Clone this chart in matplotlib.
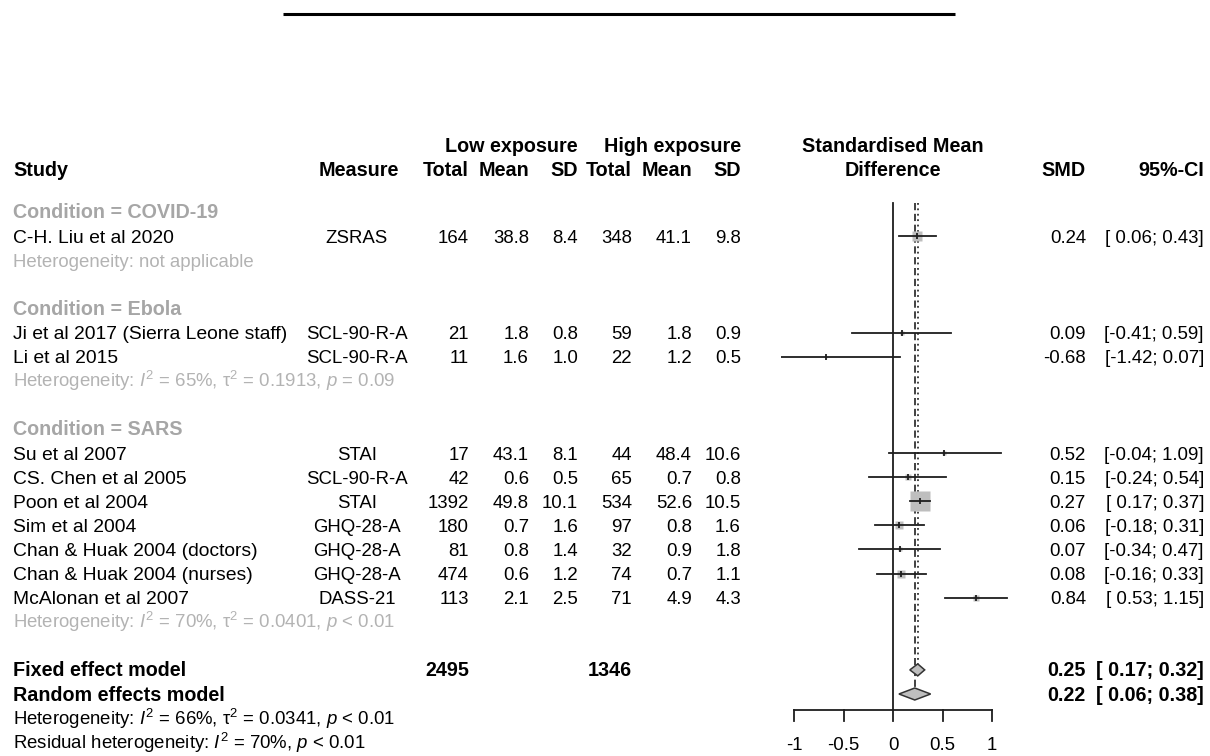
import numpy as np
import matplotlib
matplotlib.use("Agg")
import matplotlib.pyplot as plt
from matplotlib.patches import Polygon

plt.rcParams['font.family'] = ['Liberation Sans', 'DejaVu Sans']
plt.rcParams['mathtext.fontset'] = 'custom'
plt.rcParams['mathtext.rm'] = 'Liberation Sans'
plt.rcParams['mathtext.it'] = 'Liberation Sans:italic'
plt.rcParams['mathtext.bf'] = 'Liberation Sans:bold'

# ---- data ----
conditions = ["COVID-19", "Ebola", "SARS"]
study = ["C-H. Liu et al 2020",
         "Ji et al 2017 (Sierra Leone staff)", "Li et al 2015",
         "Su et al 2007", "CS. Chen et al 2005", "Poon et al 2004", "Sim et al 2004",
         "Chan & Huak 2004 (doctors)", "Chan & Huak 2004 (nurses)", "McAlonan et al 2007"]
condition = ["COVID-19", "Ebola", "Ebola",
             "SARS", "SARS", "SARS", "SARS", "SARS", "SARS", "SARS"]
measure = ["ZSRAS", "SCL-90-R-A", "SCL-90-R-A", "STAI", "SCL-90-R-A", "STAI",
           "GHQ-28-A", "GHQ-28-A", "GHQ-28-A", "DASS-21"]
n_low = [164, 21, 11, 17, 42, 1392, 180, 81, 474, 113]
mean_low = [38.8, 1.8, 1.6, 43.1, 0.6, 49.8, 0.7, 0.8, 0.6, 2.1]
sd_low = [8.4, 0.8, 1.0, 8.1, 0.5, 10.1, 1.6, 1.4, 1.2, 2.5]
n_high = [348, 59, 22, 44, 65, 534, 97, 32, 74, 71]
mean_high = [41.1, 1.8, 1.2, 48.4, 0.7, 52.6, 0.8, 0.9, 0.7, 4.9]
sd_high = [9.8, 0.9, 0.5, 10.6, 0.8, 10.5, 1.6, 1.8, 1.1, 4.3]
smd = [0.24, 0.09, -0.68, 0.52, 0.15, 0.27, 0.06, 0.07, 0.08, 0.84]
ci_lo = [0.06, -0.41, -1.42, -0.04, -0.24, 0.17, -0.18, -0.34, -0.16, 0.53]
ci_hi = [0.43, 0.59, 0.07, 1.09, 0.54, 0.37, 0.31, 0.47, 0.33, 1.15]
subgroup_het = [r"Heterogeneity: not applicable",
                r"Heterogeneity: $\mathit{I}^2$ = 65%, τ$^2$ = 0.1913, $\mathit{p}$ = 0.09",
                r"Heterogeneity: $\mathit{I}^2$ = 70%, τ$^2$ = 0.0401, $\mathit{p}$ < 0.01"]
model_names = ["Fixed effect model", "Random effects model"]
model_est = [0.25, 0.22]
model_lo = [0.17, 0.06]
model_hi = [0.32, 0.38]
total_low = 2495
total_high = 1346
overall_het = [r"Heterogeneity: $\mathit{I}^2$ = 66%, τ$^2$ = 0.0341, $\mathit{p}$ < 0.01",
               r"Residual heterogeneity: $\mathit{I}^2$ = 70%, $\mathit{p}$ < 0.01"]
xticks = [-1, -0.5, 0, 0.5, 1]
xticklabels = ["-1", "-0.5", "0", "0.5", "1"]

# ---- layout (pixels) ----
W, H = 1210, 756
FS = 13.4           # numbers, measures, heterogeneity
FS_LAB = 13.9       # study labels
FS_B = 14.2         # bold headings
ROW = 24.1
BASE = 6.5          # baseline offset from row centre
GRAY_SUB = '#a6a6a6'
GRAY_HET = '#b3b3b3'
LINE = '#1e1e1e'

x_study = 13
x_measure = 357
x_cols = [469, 529, 578, 632, 692, 741]
x_smd = 1086
x_ci = 1204
y_head1, y_head2 = 145, 169
y_first = 212
y_axis = 710
y_top_line = 203

fig = plt.figure(figsize=(W / 100, H / 100), dpi=100)
ax = fig.add_axes([0, 0, 1, 1])
ax.set_xlim(0, W)
ax.set_ylim(H, 0)
ax.axis('off')

# forest panel axes: SMD units horizontally, pixel rows vertically
f_lo, f_hi = -1.13, 1.3
px0, px_per = 893, 99
fx0 = px0 + f_lo * px_per
fx1 = px0 + f_hi * px_per
axf = fig.add_axes([fx0 / W, 0, (fx1 - fx0) / W, 1])
axf.set_xlim(f_lo, f_hi)
axf.set_ylim(H, 0)
axf.axis('off')

# decorative rule at the top
ax.plot([283, 955], [14, 14], color='black', lw=2.2, solid_capstyle='butt')


def txt(x, y, s, ha='left', bold=False, color='black', a=ax, size=None):
    if size is None:
        size = FS_B if bold else FS
    a.text(x, y + BASE, s, ha=ha, va='baseline', fontsize=size,
           fontweight='bold' if bold else 'normal', color=color)


# headers
txt(x_cols[2], y_head1, "Low exposure", ha='right', bold=True)
txt(x_cols[5], y_head1, "High exposure", ha='right', bold=True)
txt(0, y_head1, "Standardised Mean", ha='center', bold=True, a=axf)
txt(0, y_head2, "Difference", ha='center', bold=True, a=axf)
txt(x_study, y_head2, "Study", bold=True)
txt(x_measure + 42, y_head2, "Measure", ha='right', bold=True)
for x, lab in zip(x_cols, ["Total", "Mean", "SD", "Total", "Mean", "SD"]):
    txt(x, y_head2, lab, ha='right', bold=True)
txt(x_smd, y_head2, "SMD", ha='right', bold=True)
txt(x_ci, y_head2, "95%-CI", ha='right', bold=True)

# fixed-effect weights for box sizes
n1 = np.array(n_low, float)
n2 = np.array(n_high, float)
d = np.array(smd)
w = 1.0 / ((n1 + n2) / (n1 * n2) + d ** 2 / (2 * (n1 + n2)))
side_px = 1.04 * np.sqrt(w)

y = y_first
for g, cond in enumerate(conditions):
    txt(x_study, y, "Condition = " + cond, bold=True, color=GRAY_SUB)
    y += ROW
    for i in [k for k, c in enumerate(condition) if c == cond]:
        txt(x_study, y, study[i], size=FS_LAB)
        txt(x_measure, y, measure[i], ha='center')
        vals = [str(n_low[i]), f"{mean_low[i]:.1f}", f"{sd_low[i]:.1f}",
                str(n_high[i]), f"{mean_high[i]:.1f}", f"{sd_high[i]:.1f}"]
        for x, v in zip(x_cols, vals):
            txt(x, y, v, ha='right')
        txt(x_smd, y, f"{smd[i]:.2f}", ha='right')
        txt(x_ci, y, f"[{ci_lo[i]:5.2f}; {ci_hi[i]:.2f}]", ha='right')
        axf.plot(smd[i], y, marker='s', ms=side_px[i] * 0.72, mfc='#bebebe',
                 mec='none', zorder=2)
        axf.plot([ci_lo[i], ci_hi[i]], [y, y], color=LINE, lw=1.3, zorder=3)
        axf.plot(smd[i], y, marker='|', ms=5, mew=1.3, color=LINE, zorder=3)
        y += ROW
    txt(x_study, y, subgroup_het[g], color=GRAY_HET)
    y += 2 * ROW

# pooled estimates
y_models = []
for m in range(2):
    y_models.append(y)
    txt(x_study, y, model_names[m], bold=True)
    txt(x_smd, y, f"{model_est[m]:.2f}", ha='right', bold=True)
    txt(x_ci, y, f"[{model_lo[m]:5.2f}; {model_hi[m]:.2f}]", ha='right', bold=True)
    h = 6
    axf.add_patch(Polygon([(model_lo[m], y), (model_est[m], y - h),
                           (model_hi[m], y), (model_est[m], y + h)],
                          closed=True, fc='#bebebe', ec='#333333', lw=1.1, zorder=4))
    y += ROW
txt(x_cols[0], y_models[0], str(total_low), ha='right', bold=True)
txt(x_cols[3], y_models[0], str(total_high), ha='right', bold=True)
for s in overall_het:
    txt(x_study, y, s)
    y += ROW

# reference lines
axf.plot([0, 0], [y_top_line, y_axis], color=LINE, lw=1.3, zorder=1)
axf.plot([model_est[0]] * 2, [y_top_line, y_models[0] - 6], color='#333333',
         lw=1.3, ls=(0, (1, 2)), zorder=1)
axf.plot([model_est[1]] * 2, [y_top_line, y_models[1] - 6], color='#333333',
         lw=1.3, ls=(0, (4, 2)), zorder=1)

# x axis
axf.plot([xticks[0], xticks[-1]], [y_axis, y_axis], color=LINE, lw=1.3)
for t, lab in zip(xticks, xticklabels):
    axf.plot([t, t], [y_axis, y_axis + 11], color=LINE, lw=1.3)
    axf.text(t, 750, lab, ha='center', va='baseline', fontsize=FS)

fig.savefig("out.png", dpi=100)
